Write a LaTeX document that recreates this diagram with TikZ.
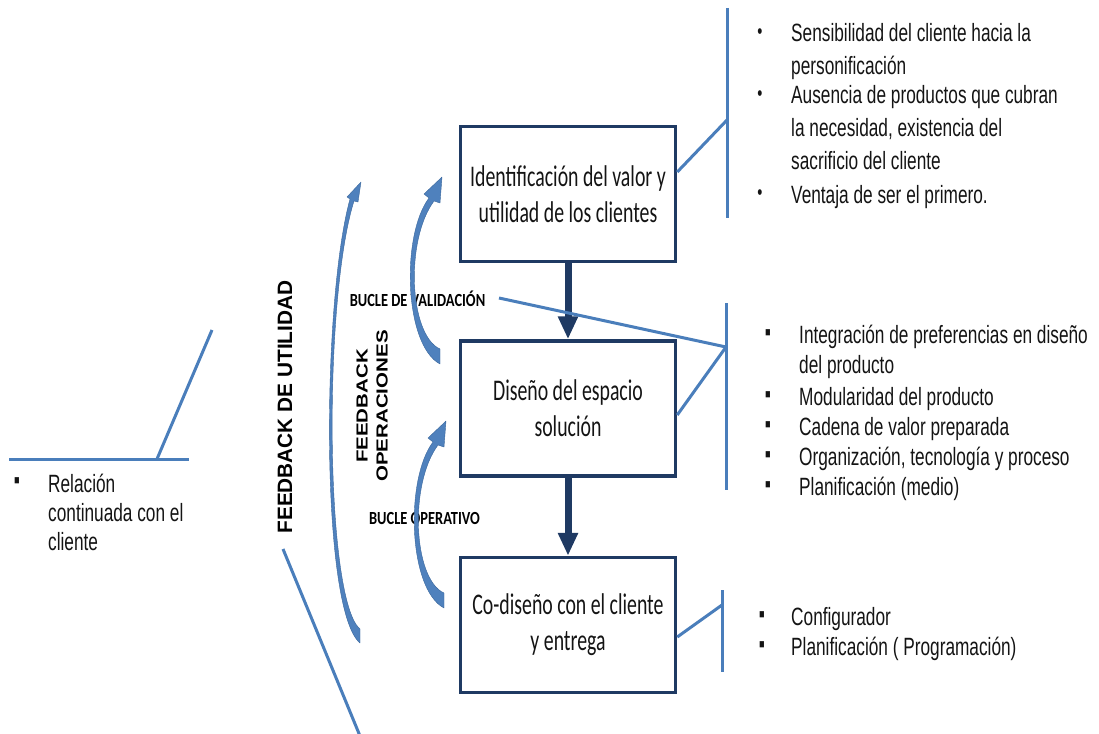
\documentclass[tikz,border=0pt]{standalone}
\usepackage{fontspec}
\usetikzlibrary{arrows.meta}
\newfontfamily\boxfont[FakeStretch=0.66]{Carlito}
\newfontfamily\labelfont[FakeStretch=0.78]{Carlito}
\newfontfamily\listfont[FakeStretch=0.69]{Liberation Sans}
\newfontfamily\headfont{Liberation Sans}
\definecolor{navy}{HTML}{1F3A63}
\definecolor{linkblue}{HTML}{4A7EBB}
\definecolor{loopfill}{HTML}{4F81BD}
\definecolor{loopedge}{HTML}{3A679C}
\definecolor{ink}{HTML}{141414}
\begin{document}
\begin{tikzpicture}[x=1pt,y=-1pt,
  stage/.style={draw=navy, line width=3.5pt, minimum width=215pt, minimum height=135pt,
    inner sep=0pt, align=center, text=ink, font=\boxfont\fontsize{30}{36}\selectfont},
  flow/.style={draw=navy, line width=7pt, -{Triangle[width=19pt,length=23pt]}},
  link/.style={draw=linkblue, line width=3pt},
  loop/.style={fill=loopfill, draw=loopedge, line width=0.4pt, line join=round},
  looplabel/.style={font=\labelfont\bfseries\fontsize{18.5}{20}\selectfont, text=black, inner sep=0pt},
  item/.style={anchor=base west, inner sep=0pt, text=ink, font=\listfont\fontsize{25}{30}\selectfont},
  dot/.style={inner sep=0pt, text=ink, font=\listfont\fontsize{21}{21}\selectfont},
  square/.style={inner sep=0pt, text=ink, font=\listfont\fontsize{25}{25}\selectfont},
]
\useasboundingbox (0,0) rectangle (1099,733);

% process stages
\node[stage] (s1) at (568,194) {Identificación del valor y\\utilidad de los clientes};
\node[stage] (s2) at (568,408.5) {Diseño del espacio\\solución};
\node[stage] (s3) at (568,625) {Co-diseño con el cliente\\y entrega};

\draw[flow] (s1.south) -- (s2.north);
\draw[flow] (s2.south) -- (s3.north);

% loop labels
\node[looplabel] (lv) at (417.5,299) {BUCLE DE VALIDACIÓN};
\node[looplabel] (lo) at (424.5,518) {BUCLE OPERATIVO};

% rotated feedback labels
\node[rotate=90, inner sep=0pt, text=black, font=\headfont\bfseries\fontsize{20.8}{24}\selectfont]
  (fu) at (285,407) {FEEDBACK DE UTILIDAD};
\node[rotate=90, inner sep=0pt, text=black, align=center, font=\headfont\bfseries\fontsize{16}{20}\selectfont]
  (fo) at (372,406) {\scalebox{1.28}[1]{FEEDBACK}\\\scalebox{1.28}[1]{OPERACIONES}};

% curved loop arrows
\fill[loop] (360,643) .. controls (320,610) and (322,300) .. (350,199)
  -- (347,197) -- (361,182) -- (358,202) -- (354,201)
  .. controls (323,300) and (325,600) .. (360,629) -- cycle;
\fill[loop] (440,364) .. controls (404,345) and (401,235) .. (429,198)
  -- (424,194) -- (442,177) -- (440,203) -- (434,201)
  .. controls (405,240) and (409,335) .. (440,349) -- cycle;
\begin{scope}[shift={(4,244)}]
\fill[loop] (440,364) .. controls (404,345) and (401,235) .. (429,198)
  -- (424,194) -- (442,177) -- (440,203) -- (434,201)
  .. controls (405,240) and (409,335) .. (440,349) -- cycle;
\end{scope}

% brackets and leader lines
\coordinate (t1a) at (727,8);
\coordinate (t1b) at (727,218);
\coordinate (t1k) at (727,120);
\coordinate (t2a) at (726,303);
\coordinate (t2b) at (726,490);
\coordinate (t2k) at (726,347);
\coordinate (t3a) at (722,590);
\coordinate (t3b) at (722,672);
\coordinate (t3k) at (722,605);
\coordinate (vs) at (499,298);

\draw[link] (t1a) -- (t1b);
\draw[link] ([yshift=22pt]s1.east) -- (t1k);
\draw[link] (t2a) -- (t2b);
\draw[link] ([yshift=-6.5pt]s2.east) -- (t2k);
\draw[link] (vs) -- (t2k);
\draw[link] (t3a) -- (t3b);
\draw[link] ([yshift=-12pt]s3.east) -- (t3k);

\coordinate (la) at (9,459);
\coordinate (lb) at (189,459);
\coordinate (lk) at (157,459);
\coordinate (lt) at (212,330);
\coordinate (ua) at (283,549);
\coordinate (ub) at (360,736);
\draw[link] (la) -- (lb);
\draw[link] (lk) -- (lt);
\draw[link] (ua) -- (ub);

% list: identification
\node[dot] (d11) at (760,34) {•};
\node[item, font=\listfont\fontsize{25}{33}\selectfont] (i11) at (791,42)
  {\parbox[t]{330pt}{Sensibilidad del cliente hacia la\\personificación}};
\node[dot] (d12) at (760,96) {•};
\node[item, font=\listfont\fontsize{25}{32.5}\selectfont] (i12) at (791,104)
  {\parbox[t]{330pt}{Ausencia de productos que cubran\\la necesidad, existencia del\\sacrificio del cliente}};
\node[dot] (d13) at (760,195) {•};
\node[item] (i13) at (791,203) {Ventaja de ser el primero.};

% list: solution space
\node[square] (d21) at (768,335) {▪};
\node[item] (i21) at (799,343) {\parbox[t]{330pt}{Integración de preferencias en diseño\\del producto}};
\node[square] (d22) at (768,397) {▪};
\node[item] (i22) at (799,405) {Modularidad del producto};
\node[square] (d23) at (768,427) {▪};
\node[item] (i23) at (799,435) {Cadena de valor preparada};
\node[square] (d24) at (768,457) {▪};
\node[item] (i24) at (799,465) {Organización, tecnología y proceso};
\node[square] (d25) at (768,487) {▪};
\node[item] (i25) at (799,495) {Planificación (medio)};

% list: co-design
\node[square] (d31) at (762,617) {▪};
\node[item] (i31) at (791,625) {Configurador};
\node[square] (d32) at (762,647) {▪};
\node[item] (i32) at (791,655) {Planificación ( Programación)};

% list: relation
\node[square] (d41) at (17,483) {▪};
\node[item, font=\listfont\fontsize{25}{29}\selectfont] (i41) at (48,492)
  {\parbox[t]{200pt}{Relación\\continuada con el\\cliente}};
\end{tikzpicture}
\end{document}
